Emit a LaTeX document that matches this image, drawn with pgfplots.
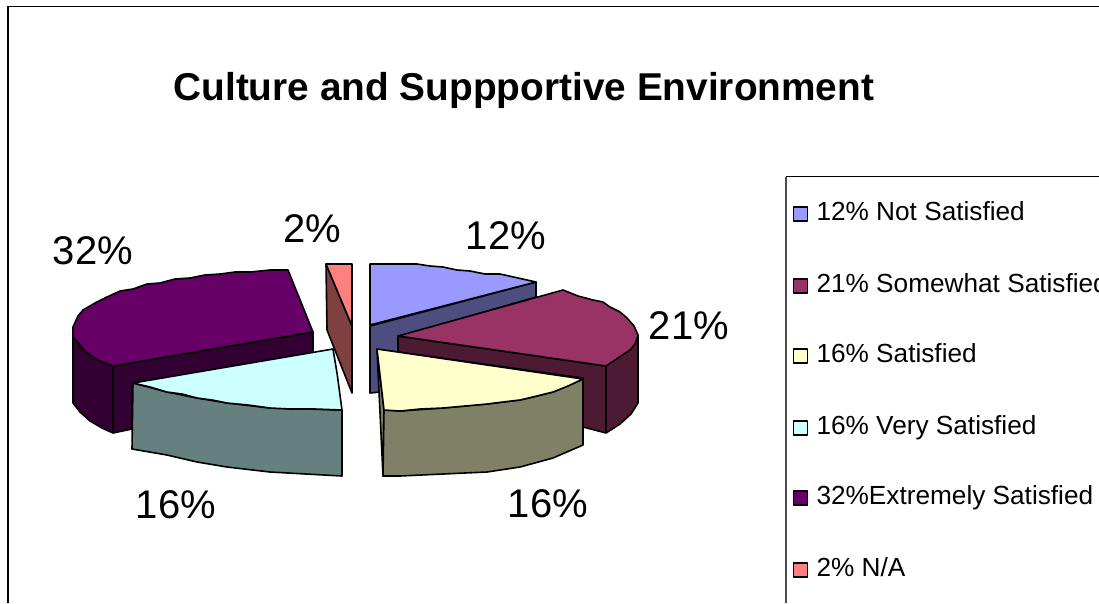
\documentclass[border=0pt]{standalone}
\usepackage{fontspec}
\setmainfont{Liberation Sans}
\usepackage{pgfplots}
\pgfplotsset{compat=1.18}
\definecolor{blueT}{HTML}{9999FF}\definecolor{blueS}{HTML}{4D4D80}
\definecolor{maroonT}{HTML}{993366}\definecolor{maroonS}{HTML}{4D1A33}
\definecolor{yellowT}{HTML}{FFFFCC}\definecolor{yellowS}{HTML}{808066}
\definecolor{cyanT}{HTML}{CCFFFF}\definecolor{cyanS}{HTML}{668080}
\definecolor{purpleT}{HTML}{660066}\definecolor{purpleS}{HTML}{330033}
\definecolor{redT}{HTML}{FF8080}\definecolor{redS}{HTML}{804040}
\pgfplotsset{slice/.style={draw=black,line width=1.6pt,line join=round,fill=#1,mark=none,solid}}
\newcommand{\pct}[1]{\fontsize{40}{45}\selectfont #1}
\newcommand{\leg}[1]{\fontsize{26.2}{30}\selectfont #1}
\begin{document}
\begin{tikzpicture}
\clip[use as bounding box] (0,0) rectangle (1099pt,603pt);
\begin{axis}[
  scale only axis,width=1099pt,height=603pt,
  xmin=0,xmax=1099,ymin=0,ymax=603,y dir=reverse,
  hide axis,clip=true,
  every node/.style={inner sep=0pt,outer sep=0pt,text=black}]
% outer frame and legend frame
\addplot[black,line width=1.2pt,mark=none] coordinates {(8,603) (8,6.5) (1099,6.5)};
\addplot[black!70,line width=1.2pt,mark=none] coordinates {(786,603) (786,176.5)};
\addplot[black,line width=1.2pt,mark=none] coordinates {(786,176.5) (1099,176.5)};
% 32% slice
\addplot[slice=purpleS] coordinates {(73,327) (73,403) (80,412) (90,421) (102,428) (113,433) (132,429) (132,386) (313,354) (313,332) (113,366) (93,357) (80,347)} -- cycle;
\addplot[slice=purpleS] coordinates {(113,366) (113,433)};
\addplot[slice=purpleT] coordinates {(288,270) (313,332) (113,366) (100,361) (93,357) (85,351) (80,345) (73,337) (73,327) (78,316) (83,310) (95,303) (107,297) (120,291) (133,289) (147,284) (160,283) (175,279) (190,278) (205,275) (220,274) (235,272) (250,272) (270,270)} -- cycle;
% 2% slice
\addplot[slice=redS] coordinates {(326,264) (352,326) (352,393) (327,330)} -- cycle;
\addplot[slice=redT] coordinates {(326,264) (352,264) (352,326)} -- cycle;
% 12% slice
\addplot[slice=blueS] coordinates {(370,326) (536,282) (536,297) (398,337) (398,352) (380,350) (380,392) (370,393)} -- cycle;
\addplot[slice=blueT] coordinates {(370,264) (417,264) (430,266) (443,267) (457,270) (470,271) (485,274) (500,274) (518,278) (536,282) (370,325)} -- cycle;
% 21% slice
\addplot[slice=maroonS] coordinates {(398,336) (398,352) (583,378) (583,427) (606,433) (620,424) (631,414) (638,403) (638,335) (606,366)} -- cycle;
\addplot[slice=maroonS] coordinates {(606,366) (606,433)};
\addplot[slice=maroonT] coordinates {(563,290) (578,296) (593,300) (603,302) (610,307) (620,312) (627,318) (634,326) (638,335) (635,344) (630,350) (618,358) (606,366) (398,336)} -- cycle;
% 16% very satisfied slice
\addplot[slice=cyanS] coordinates {(133,383) (167,392) (197,398) (227,403) (270,408) (342,410) (342,476) (270,472) (227,467) (197,462) (167,455) (132,449)} -- cycle;
\addplot[slice=cyanT] coordinates {(333,349) (337,373) (342,410) (315,409) (290,409) (270,408) (248,405) (227,403) (212,400) (197,398) (182,394) (167,392) (150,387) (133,383)} -- cycle;
% 16% satisfied slice
\addplot[slice=yellowS] coordinates {(377,349) (384,410) (383,476)} -- cycle;
\addplot[slice=yellowS] coordinates {(384,410) (400,411) (443,408) (487,404) (520,400) (553,392) (583,379) (583,445) (553,458) (520,467) (487,472) (443,474) (400,476) (383,476)} -- cycle;
\addplot[slice=yellowT] coordinates {(377,349) (583,379) (568,386) (553,392) (537,396) (520,400) (503,402) (487,404) (465,406) (443,408) (420,409) (400,411) (384,410)} -- cycle;
% legend swatches
\addplot[slice=blueT,line width=1.3pt] coordinates {(793.5,207) (807.5,207) (807.5,221) (793.5,221)} -- cycle;
\addplot[slice=maroonT,line width=1.3pt] coordinates {(793.5,279) (807.5,279) (807.5,293) (793.5,293)} -- cycle;
\addplot[slice=yellowT,line width=1.3pt] coordinates {(793.5,349) (807.5,349) (807.5,363) (793.5,363)} -- cycle;
\addplot[slice=cyanT,line width=1.3pt] coordinates {(793.5,421) (807.5,421) (807.5,435) (793.5,435)} -- cycle;
\addplot[slice=purpleT,line width=1.3pt] coordinates {(793.5,491) (807.5,491) (807.5,505) (793.5,505)} -- cycle;
\addplot[slice=redT,line width=1.3pt] coordinates {(793.5,563) (807.5,563) (807.5,577) (793.5,577)} -- cycle;
% title
\node[anchor=base west] at (axis cs:170,100) {\fontsize{38.8}{44}\selectfont\bfseries Culture and Suppportive Environment};
% slice percentages
\node at (axis cs:93,251) {\pct{32\%}};
\node at (axis cs:312,229) {\pct{2\%}};
\node at (axis cs:506,236) {\pct{12\%}};
\node at (axis cs:689,326) {\pct{21\%}};
\node at (axis cs:176,505) {\pct{16\%}};
\node at (axis cs:548,504) {\pct{16\%}};
% legend entries
\node[anchor=base west] at (axis cs:813,220) {\leg{12\% Not Satisfied}};
\node[anchor=base west] at (axis cs:813,292) {\leg{21\% Somewhat Satisfied}};
\node[anchor=base west] at (axis cs:813,362) {\leg{16\% Satisfied}};
\node[anchor=base west] at (axis cs:813,434) {\leg{16\% Very Satisfied}};
\node[anchor=base west] at (axis cs:813,504) {\leg{32\%Extremely Satisfied}};
\node[anchor=base west] at (axis cs:813,576) {\leg{2\% N/A}};
\end{axis}
\end{tikzpicture}
\end{document}
